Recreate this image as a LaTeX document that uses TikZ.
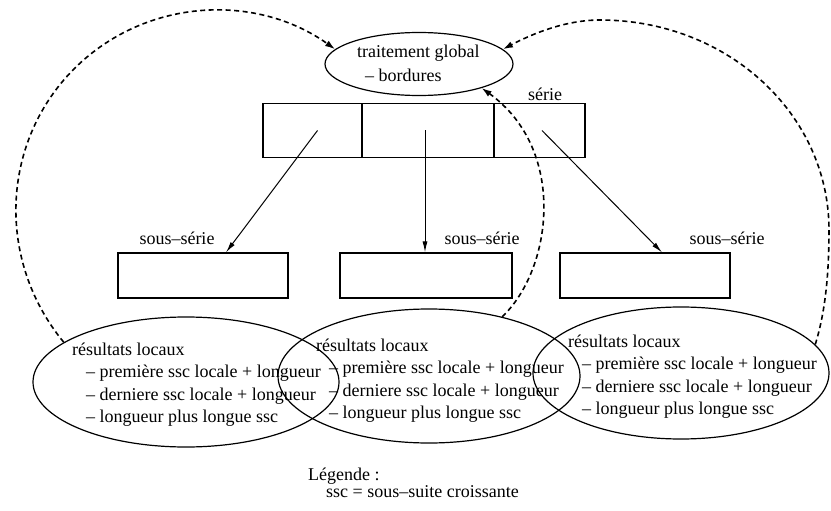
\documentclass[tikz,border=0pt]{standalone}
\usepackage{fontspec}
\setmainfont{Liberation Serif}
\usetikzlibrary{arrows.meta,shapes.geometric}
\begin{document}
\begin{tikzpicture}[x=1pt,y=-1pt,
  every node/.style={font=\fontsize{18}{22}\selectfont},
  txt/.style={anchor=base west, inner sep=0pt},
  ctxt/.style={anchor=base, inner sep=0pt},
  bulle/.style={ellipse, draw, line width=1.2pt, inner sep=0pt},
  cadre/.style={rectangle, draw, line width=1.2pt, inner sep=0pt},
  fleche/.style={line width=1pt, -{Latex[length=11pt,width=5pt]}},
  retour/.style={line width=1.6pt, dash pattern=on 5pt off 3.5pt, -{Latex[length=10pt,width=6.5pt]}}
]
\useasboundingbox (0,0) rectangle (831,511);

% global treatment
\node[bulle, minimum width=188pt, minimum height=63pt] (glob) at (419,64) {};
\node[txt] (globa) at (357,58) {traitement global};
\node[txt] (globb) at (365,82) {– bordures};

% the full series, cut in three cells
\node[cadre, minimum width=99pt, minimum height=54pt] (s1) at (312.5,130.5) {};
\node[cadre, minimum width=132pt, minimum height=54pt] (s2) at (428,130.5) {};
\node[cadre, minimum width=91pt, minimum height=54pt] (s3) at (539.5,130.5) {};
\node[ctxt] (lserie) at (545,100) {série};

% sub-series
\node[cadre, minimum width=170pt, minimum height=45pt] (sl) at (203,275.5) {};
\node[cadre, minimum width=172pt, minimum height=45pt] (sm) at (426,275.5) {};
\node[cadre, minimum width=170pt, minimum height=45pt] (sr) at (645,275.5) {};
\node[ctxt] (lsl) at (177,244) {sous–série};
\node[ctxt] (lsm) at (482,244) {sous–série};
\node[ctxt] (lsr) at (727,244) {sous–série};

\draw[fleche] ([xshift=5pt]s1.center) -- ([xshift=23pt]sl.north);
\draw[fleche] ([xshift=-3pt]s2.center) -- ([xshift=-1pt]sm.north);
\draw[fleche] ([xshift=2.5pt]s3.center) -- ([xshift=17pt]sr.north);

% local results
\node[bulle, minimum width=306pt, minimum height=130pt] (L) at (186,382) {};
\node[bulle, minimum width=302pt, minimum height=134pt] (M) at (429,376) {};
\node[bulle, minimum width=296pt, minimum height=132pt] (R) at (681,373) {};

\node[txt] (l0) at (72,355) {résultats locaux};
\node[txt] (l1) at (86,377.5) {– première ssc locale + longueur};
\node[txt] (l2) at (86,400) {– derniere ssc locale + longueur};
\node[txt] (l3) at (86,422.5) {– longueur plus longue ssc};

\node[txt] (m0) at (316,351) {résultats locaux};
\node[txt] (m1) at (329,373.5) {– première ssc locale + longueur};
\node[txt] (m2) at (329,396) {– derniere ssc locale + longueur};
\node[txt] (m3) at (329,418.5) {– longueur plus longue ssc};

\node[txt] (r0) at (568,347) {résultats locaux};
\node[txt] (r1) at (582,369.5) {– première ssc locale + longueur};
\node[txt] (r2) at (582,392) {– derniere ssc locale + longueur};
\node[txt] (r3) at (582,414.5) {– longueur plus longue ssc};

% feedback of the local results to the global treatment
\draw[retour] (L.162) .. controls (-4,260) and (1.5,143.6) .. (72,71)
  .. controls (142.7,-1.8) and (255,-8) .. (glob.170);
\draw[retour] (R.12) .. controls (826,310) and (829,270) .. (829,230)
  .. controls (829,114) and (727.6,20) .. (600,20)
  .. controls (565,20) and (532,34) .. (glob.10);
\draw[retour] (M.39) .. controls (552,270) and (568,150) .. (glob.-21);

% legend
\node[txt] (leg) at (308,480) {Légende :};
\node[txt] (legssc) at (326,497) {ssc = sous–suite croissante};
\end{tikzpicture}
\end{document}
